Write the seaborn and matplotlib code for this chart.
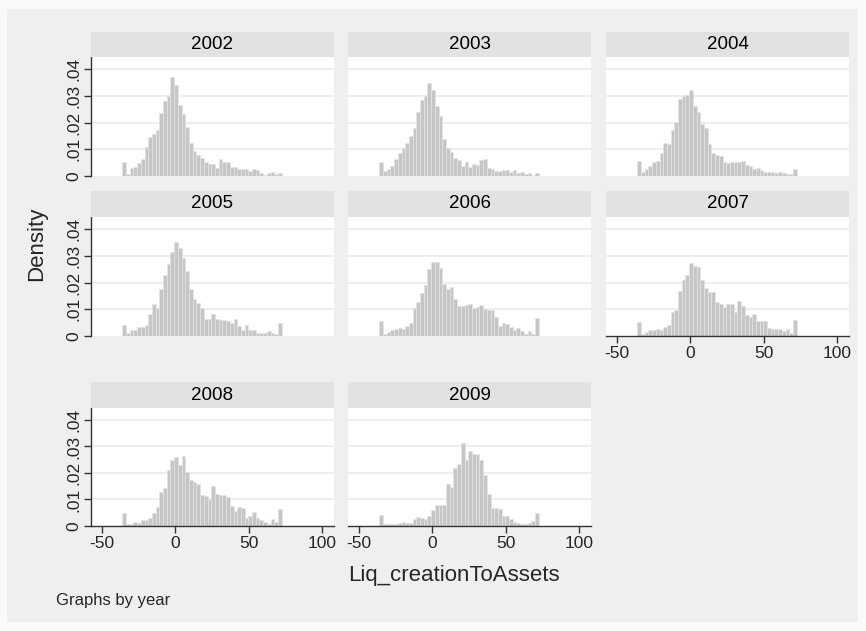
import numpy as np
import pandas as pd
import matplotlib
matplotlib.use("Agg")
import matplotlib.pyplot as plt
from matplotlib.patches import Rectangle
import seaborn as sns

# histogram densities, 43 bins from -36.2 to 72.4
years = ["2002", "2003", "2004", "2005", "2006", "2007", "2008", "2009"]

d2002 = [0.0054, 0.0008, 0.0029, 0.0035, 0.0048, 0.0063, 0.0108, 0.0145, 0.0158, 0.0173,
         0.0235, 0.0281, 0.0300, 0.0370, 0.0341, 0.0266, 0.0231, 0.0183, 0.0125, 0.0095,
         0.0079, 0.0066, 0.0054, 0.0046, 0.0046, 0.0030, 0.0064, 0.0053, 0.0053, 0.0034,
         0.0032, 0.0028, 0.0025, 0.0025, 0.0020, 0.0027, 0.0022, 0.0010, 0.0004, 0.0013,
         0.0015, 0.0008, 0.0013]
d2003 = [0.0054, 0.0020, 0.0028, 0.0038, 0.0063, 0.0085, 0.0104, 0.0125, 0.0148, 0.0179,
         0.0241, 0.0285, 0.0300, 0.0348, 0.0323, 0.0263, 0.0226, 0.0138, 0.0106, 0.0088,
         0.0069, 0.0060, 0.0039, 0.0051, 0.0035, 0.0045, 0.0041, 0.0058, 0.0063, 0.0029,
         0.0025, 0.0019, 0.0019, 0.0023, 0.0021, 0.0014, 0.0021, 0.0013, 0.0016, 0.0006,
         0.0013, 0.0004, 0.0010]
d2004 = [0.0057, 0.0016, 0.0025, 0.0039, 0.0054, 0.0057, 0.0085, 0.0125, 0.0119, 0.0173,
         0.0201, 0.0289, 0.0301, 0.0304, 0.0320, 0.0260, 0.0239, 0.0195, 0.0179, 0.0120,
         0.0085, 0.0079, 0.0076, 0.0051, 0.0048, 0.0054, 0.0054, 0.0054, 0.0057, 0.0041,
         0.0039, 0.0025, 0.0031, 0.0023, 0.0016, 0.0014, 0.0016, 0.0010, 0.0014, 0.0010,
         0.0009, 0.0006, 0.0025]
d2005 = [0.0043, 0.0013, 0.0021, 0.0024, 0.0034, 0.0034, 0.0040, 0.0084, 0.0118, 0.0103,
         0.0175, 0.0228, 0.0269, 0.0315, 0.0350, 0.0328, 0.0290, 0.0243, 0.0174, 0.0140,
         0.0125, 0.0103, 0.0065, 0.0063, 0.0084, 0.0063, 0.0061, 0.0059, 0.0055, 0.0049,
         0.0065, 0.0038, 0.0021, 0.0043, 0.0021, 0.0021, 0.0010, 0.0010, 0.0010, 0.0018,
         0.0011, 0.0008, 0.0050]
d2006 = [0.0055, 0.0009, 0.0015, 0.0022, 0.0028, 0.0031, 0.0028, 0.0036, 0.0050, 0.0103,
         0.0128, 0.0161, 0.0190, 0.0249, 0.0275, 0.0275, 0.0255, 0.0193, 0.0174, 0.0184,
         0.0140, 0.0113, 0.0111, 0.0115, 0.0119, 0.0103, 0.0109, 0.0115, 0.0100, 0.0096,
         0.0099, 0.0071, 0.0038, 0.0049, 0.0046, 0.0034, 0.0024, 0.0030, 0.0019, 0.0009,
         0.0018, 0.0009, 0.0068]
d2007 = [0.0053, 0.0006, 0.0015, 0.0021, 0.0024, 0.0025, 0.0021, 0.0034, 0.0040, 0.0090,
         0.0096, 0.0168, 0.0211, 0.0228, 0.0274, 0.0261, 0.0259, 0.0209, 0.0180, 0.0165,
         0.0163, 0.0128, 0.0121, 0.0109, 0.0121, 0.0118, 0.0090, 0.0131, 0.0113, 0.0078,
         0.0071, 0.0084, 0.0056, 0.0055, 0.0055, 0.0030, 0.0025, 0.0025, 0.0028, 0.0018,
         0.0025, 0.0011, 0.0061]
d2008 = [0.0050, 0.0006, 0.0006, 0.0016, 0.0010, 0.0023, 0.0023, 0.0029, 0.0050, 0.0073,
         0.0129, 0.0145, 0.0210, 0.0248, 0.0260, 0.0231, 0.0263, 0.0204, 0.0175, 0.0166,
         0.0158, 0.0116, 0.0114, 0.0100, 0.0151, 0.0120, 0.0116, 0.0116, 0.0108, 0.0075,
         0.0058, 0.0073, 0.0069, 0.0031, 0.0039, 0.0051, 0.0029, 0.0023, 0.0016, 0.0008,
         0.0026, 0.0016, 0.0064]
d2009 = [0.0041, 0.0006, 0.0006, 0.0008, 0.0009, 0.0013, 0.0014, 0.0013, 0.0010, 0.0025,
         0.0035, 0.0031, 0.0026, 0.0038, 0.0060, 0.0079, 0.0079, 0.0079, 0.0160, 0.0148,
         0.0219, 0.0235, 0.0313, 0.0250, 0.0281, 0.0273, 0.0273, 0.0250, 0.0194, 0.0119,
         0.0066, 0.0066, 0.0063, 0.0039, 0.0039, 0.0026, 0.0016, 0.0013, 0.0006, 0.0006,
         0.0013, 0.0020, 0.0048]
densities = [d2002, d2003, d2004, d2005, d2006, d2007, d2008, d2009]

y_ticks = [0, 0.01, 0.02, 0.03, 0.04]
y_labels = ["0", ".01", ".02", ".03", ".04"]
x_ticks = [-50, 0, 50, 100]
x_labels = ["-50", "0", "50", "100"]

edges = np.linspace(-36.2, 72.4, 44)
centers = (edges[:-1] + edges[1:]) / 2

sns.set_style("white")
plt.rcParams["font.family"] = ["Liberation Sans", "DejaVu Sans"]

W, H = 866, 631
fig = plt.figure(figsize=(W / 100, H / 100), dpi=100, facecolor="#fafafa")
# gray graph region inside a thin light margin
fig.patches.append(Rectangle((7 / W, 9 / H), (W - 15) / W, (H - 18) / H,
                             transform=fig.transFigure, facecolor="#efefef",
                             edgecolor="none", zorder=-10))

col_left = [91, 348, 606]
panel_w = 243
strip_top = [32, 191, 382]
plot_top = [57, 217, 408]
plot_bot = [176, 336, 526]
with_xaxis = {"2007", "2008", "2009"}

for k, (yr, dens) in enumerate(zip(years, densities)):
    r, c = divmod(k, 3)
    l = col_left[c] / W
    w = panel_w / W
    ax = fig.add_axes([l, 1 - plot_bot[r] / H, w, (plot_bot[r] - plot_top[r]) / H])
    ax.set_facecolor("white")
    for yv in y_ticks[1:]:
        ax.axhline(yv, color="#eaeaea", lw=1.1, zorder=0)
    df = pd.DataFrame({"x": centers, "w": dens})
    sns.histplot(data=df, x="x", weights="w", bins=list(edges), ax=ax, color="#c6c6c6",
                 edgecolor="#e4e4e4", linewidth=0.5, alpha=1, zorder=2)
    ax.set_xlim(-57.5, 108)
    ax.set_ylim(0, 0.0445)
    ax.set_xlabel("")
    ax.set_ylabel("")
    for s in ax.spines.values():
        s.set_visible(False)

    ax.set_yticks(y_ticks)
    if c == 0:
        ax.spines["left"].set_visible(True)
        ax.spines["left"].set_color("#333333")
        ax.spines["left"].set_linewidth(1)
        ax.set_yticklabels(y_labels, rotation=90, va="center", fontsize=12.5)
        ax.tick_params(axis="y", length=5, width=1, color="#333333", pad=2, left=True)
    else:
        ax.set_yticklabels([])
        ax.tick_params(axis="y", length=0)

    ax.set_xticks(x_ticks)
    if yr in with_xaxis:
        ax.spines["bottom"].set_visible(True)
        ax.spines["bottom"].set_color("#333333")
        ax.spines["bottom"].set_linewidth(1)
        ax.set_xticklabels(x_labels, fontsize=12.5)
        ax.tick_params(axis="x", length=5, width=1, color="#333333", pad=2, bottom=True)
    else:
        ax.set_xticklabels([])
        ax.tick_params(axis="x", length=0)

    # strip with the year
    sax = fig.add_axes([l, 1 - plot_top[r] / H, w, (plot_top[r] - strip_top[r]) / H])
    sax.set_facecolor("#e2e2e2")
    sax.set_xticks([])
    sax.set_yticks([])
    for s in sax.spines.values():
        s.set_visible(False)
    sax.text(0.5, 0.5, yr, ha="center", va="center", fontsize=13.5, color="black")

fig.text(37 / W, 1 - 244 / H, "Density", rotation=90, ha="center", va="center", fontsize=16)
fig.text(454 / W, 1 - 575 / H, "Liq_creationToAssets", ha="center", va="center", fontsize=16)
fig.text(56 / W, 1 - 600 / H, "Graphs by year", ha="left", va="center", fontsize=12)

fig.savefig("out.png", dpi=100, facecolor=fig.get_facecolor())
